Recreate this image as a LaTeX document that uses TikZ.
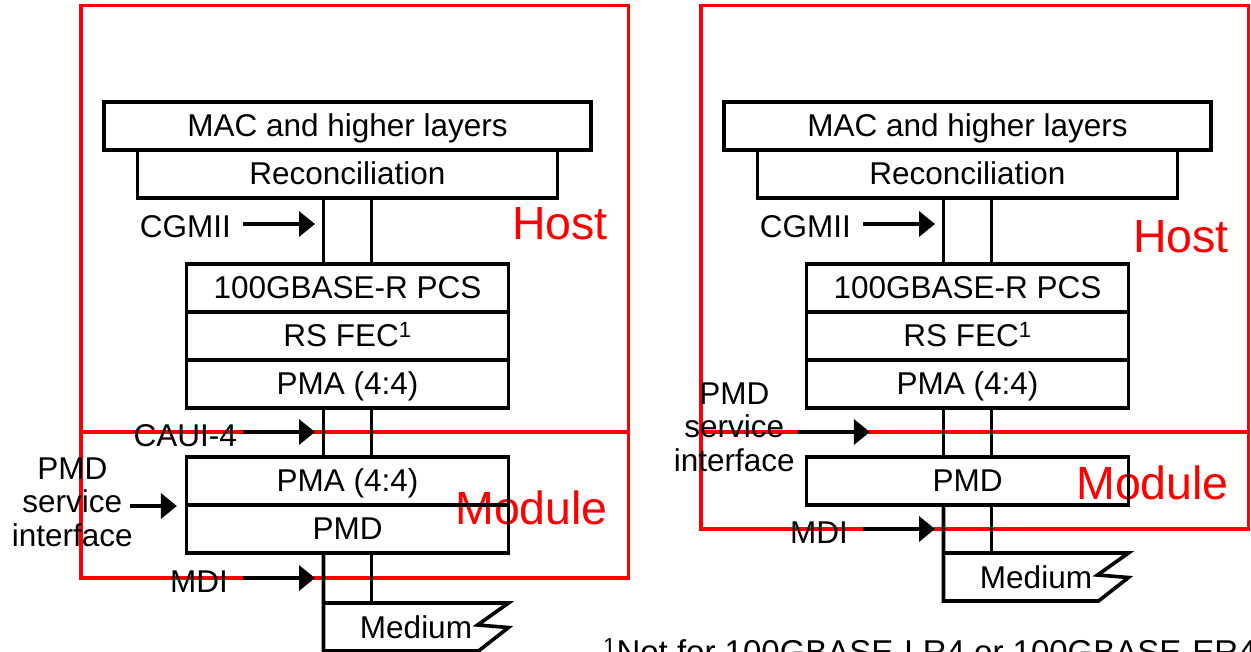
\documentclass[tikz,border=0pt]{standalone}
\usepackage{fontspec}
\setmainfont{Liberation Sans}
\usetikzlibrary{arrows.meta,positioning}

\begin{document}
\begin{tikzpicture}[
    x=1pt, y=-1pt,
    font=\fontsize{31.5}{33.5}\selectfont,
    layer/.style={rectangle, draw, line width=3.6pt, minimum width=322pt,
                  minimum height=48pt, inner sep=0pt, outer sep=0pt,
                  text height=22.6pt, text depth=1pt},
    zone/.style={draw=red, line width=3.2pt},
    zonelabel/.style={text=red, anchor=east, inner sep=0pt,
                      font=\fontsize{46.5}{50}\selectfont},
    tag/.style={anchor=east, inner sep=0pt, align=center},
    line/.style={line width=3.6pt},
    arrow/.style={-{Triangle[length=16pt, width=25pt]}, line width=3.6pt}
]
  \fill[white] (0,0) rectangle (1251,651);
  \useasboundingbox (0,0) rectangle (1251,651);

  % host and module outlines
  \draw[zone] (81,5.5) rectangle (628.5,432);
  \draw[zone] (81,432) rectangle (628.5,578);
  \draw[zone] (701,5.5) rectangle (1248.5,432);
  \draw[zone] (701,432) rectangle (1248.5,529);
  \node[zonelabel] (hostL) at (608,224) {Host};
  \node[zonelabel] (modL) at (608,507.5) {Module};
  \node[zonelabel] (hostR) at (1229,237) {Host};
  \node[zonelabel] (modR) at (1229,483) {Module};

  % left: host with separate module
  \node[layer, minimum width=487pt] (macL) at (347.5,126) {MAC and higher layers};
  \node[layer, minimum width=420pt, below=0pt of macL] (recL) {Reconciliation};
  \node[layer] (pcsL) at (347.5,288) {100GBASE-R PCS};
  \node[layer, below=0pt of pcsL] (fecL) {RS FEC\textsuperscript{1}};
  \node[layer, below=0pt of fecL] (pmaL) {PMA (4:4)};
  \node[layer] (pmaML) at (347.5,481) {PMA (4:4)};
  \node[layer, below=0pt of pmaML] (pmdL) {PMD};
  \node (medL) at (416,627) {Medium};

  \draw[line] ([xshift=-24pt]recL.south) -- ([xshift=-24pt]pcsL.north);
  \draw[line] ([xshift=24pt]recL.south) -- ([xshift=24pt]pcsL.north);
  \draw[line] ([xshift=-24pt]pmaL.south) -- ([xshift=-24pt]pmaML.north);
  \draw[line] ([xshift=24pt]pmaL.south) -- ([xshift=24pt]pmaML.north);
  \draw[line] ([xshift=24pt]pmdL.south) -- ++(0,50);
  \draw[line] ([xshift=-24pt]pmdL.south) -- ++(0,98) -- ++(155,0)
    -- ++(30,-23.5) -- ++(-31,-2.5) -- ++(31,-22) -- ++(-185,0);

  \node[tag] (cgmiiL) at (231,227) {CGMII};
  \node[tag] (cauiL) at (237,436) {CAUI-4};
  \node[tag] (mdiL) at (228,581.5) {MDI};
  \node[tag] (pmdsiL) at (132.9,502.2) {PMD\\service\\interface};
  \draw[arrow] ([shift={(12pt,3pt)}]cgmiiL.east) -- ++(72,0);
  \draw[arrow] ([shift={(6pt,4pt)}]cauiL.east) -- ++(72,0);
  \draw[arrow] ([shift={(15pt,3.5pt)}]mdiL.east) -- ++(72,0);
  \draw[arrow] ([shift={(-3pt,-3.8pt)}]pmdsiL.east) -- ++(47,0);

  % right: PMD inside the module
  \node[layer, minimum width=487pt] (macR) at (967.5,126) {MAC and higher layers};
  \node[layer, minimum width=420pt, below=0pt of macR] (recR) {Reconciliation};
  \node[layer] (pcsR) at (967.5,288) {100GBASE-R PCS};
  \node[layer, below=0pt of pcsR] (fecR) {RS FEC\textsuperscript{1}};
  \node[layer, below=0pt of fecR] (pmaR) {PMA (4:4)};
  \node[layer] (pmdR) at (967.5,481) {PMD};
  \node (medR) at (1036,577) {Medium};

  \draw[line] ([xshift=-24pt]recR.south) -- ([xshift=-24pt]pcsR.north);
  \draw[line] ([xshift=24pt]recR.south) -- ([xshift=24pt]pcsR.north);
  \draw[line] ([xshift=-24pt]pmaR.south) -- ([xshift=-24pt]pmdR.north);
  \draw[line] ([xshift=24pt]pmaR.south) -- ([xshift=24pt]pmdR.north);
  \draw[line] ([xshift=24pt]pmdR.south) -- ++(0,48);
  \draw[line] ([xshift=-24pt]pmdR.south) -- ++(0,96) -- ++(155,0)
    -- ++(30,-23.5) -- ++(-31,-2.5) -- ++(31,-22) -- ++(-185,0);

  \node[tag] (cgmiiR) at (851,227) {CGMII};
  \node[tag] (mdiR) at (848,532.5) {MDI};
  \node[tag] (pmdsiR) at (794.9,427.2) {PMD\\service\\interface};
  \draw[arrow] ([shift={(12pt,3pt)}]cgmiiR.east) -- ++(72,0);
  \draw[arrow] ([shift={(15pt,3.5pt)}]mdiR.east) -- ++(72,0);
  \draw[arrow] ([shift={(3pt,-4.8pt)}]pmdsiR.east) -- ++(72,0);

  \node[anchor=base west, inner sep=0pt, font=\fontsize{33}{36}\selectfont]
    (note) at (603,663.5) {\textsuperscript{1}Not for 100GBASE-LR4 or 100GBASE-ER4};
\end{tikzpicture}
\end{document}
